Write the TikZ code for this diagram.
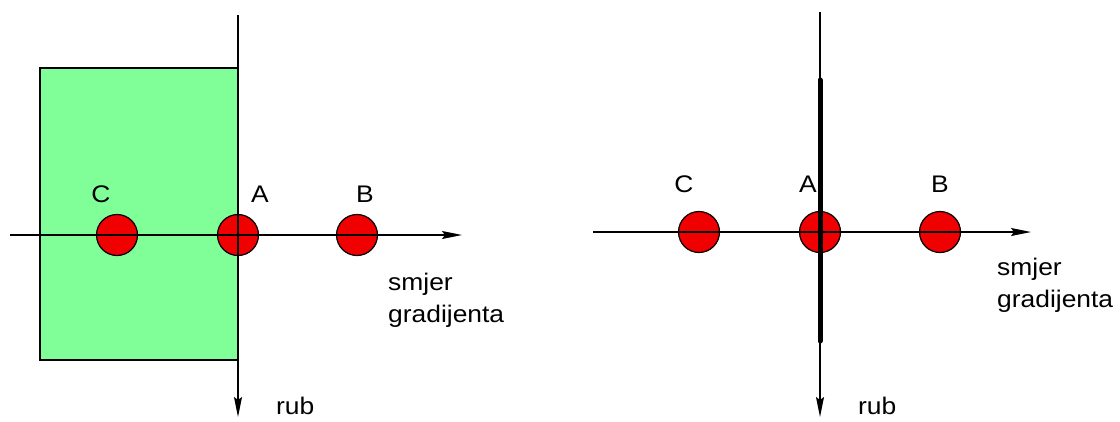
\documentclass[tikz,border=0pt]{standalone}
\usepackage{fontspec}
\setmainfont{Liberation Sans}[FakeStretch=1.1]
\usetikzlibrary{arrows.meta}
\definecolor{regiongreen}{RGB}{128,255,153}
\definecolor{pointred}{RGB}{240,0,0}
\tikzset{
  pt/.style={circle, draw=black, line width=1.2pt, fill=pointred, minimum size=41pt, inner sep=0pt},
  axis/.style={line width=1.4pt, -{Stealth[length=20pt,width=8pt,inset=3pt]}},
  lbl/.style={font=\fontsize{24}{32}\selectfont, inner sep=0pt, anchor=base},
  edgethick/.style={line width=5pt, line cap=round},
}
\begin{document}
\begin{tikzpicture}[x=1pt,y=-1pt]
\useasboundingbox (0,0) rectangle (1120,421);
% ---------- left ----------
\filldraw[fill=regiongreen, draw=black, line width=1.2pt] (40,68) rectangle (238,360);
\node[pt] (C1) at (117,235) {};
\node[pt] (A1) at (238,235) {};
\node[pt] (B1) at (357,235) {};
\coordinate (h1s) at (10,235);
\coordinate (h1e) at (462,235);
\coordinate (v1s) at (238,15);
\coordinate (v1e) at (238,417);
\draw[axis] (h1s) -- (h1e);
\draw[axis] (v1s) -- (v1e);
\node[lbl] (lc1) at (101,202) {C};
\node[lbl] (la1) at (260,202) {A};
\node[lbl] (lb1) at (365,202) {B};
\node[lbl, align=left, anchor=base west] (sg1) at (388,322) {smjer\\gradijenta};
\node[lbl, anchor=base west] (r1) at (276,414) {rub};
% ---------- right ----------
\node[pt] (C2) at (699,232) {};
\node[pt] (A2) at (820,232) {};
\node[pt] (B2) at (940,232) {};
\coordinate (h2s) at (593,232);
\coordinate (h2e) at (1031,232);
\coordinate (v2s) at (820,12);
\coordinate (v2e) at (820,417);
\coordinate (t2s) at (820,80);
\coordinate (t2e) at (820,341);
\draw[edgethick] (t2s) -- (t2e);
\draw[axis] (h2s) -- (h2e);
\draw[axis] (v2s) -- (v2e);
\node[lbl] (lc2) at (684,192) {C};
\node[lbl] (la2) at (808,192) {A};
\node[lbl] (lb2) at (940,192) {B};
\node[lbl, align=left, anchor=base west] (sg2) at (997,307) {smjer\\gradijenta};
\node[lbl, anchor=base west] (r2) at (858,414) {rub};
\end{tikzpicture}
\end{document}
